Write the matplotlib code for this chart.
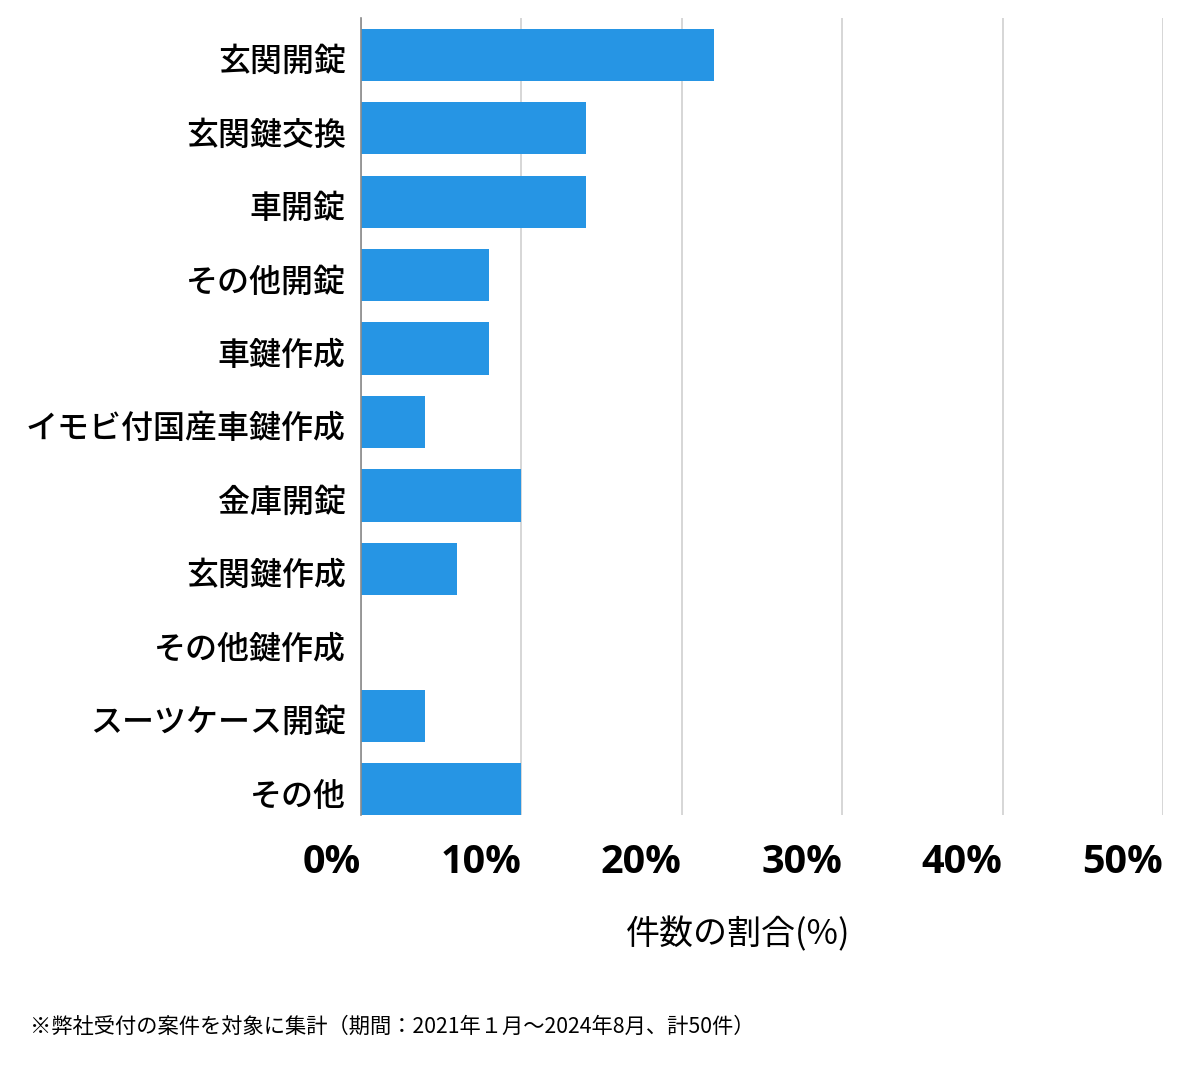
import matplotlib
matplotlib.use('Agg')
import matplotlib.pyplot as plt
from matplotlib.ticker import FixedLocator
from matplotlib.transforms import ScaledTranslation

plt.rcParams['font.family'] = ['Noto Sans CJK JP', 'DejaVu Sans']

# data (share of 50 jobs, %)
categories = ['玄関開錠', '玄関鍵交換', '車開錠', 'その他開錠', '車鍵作成',
              'イモビ付国産車鍵作成', '金庫開錠', '玄関鍵作成', 'その他鍵作成',
              'スーツケース開錠', 'その他']
shares = [22, 14, 14, 8, 8, 4, 10, 6, 0, 4, 10]
xticks = [0, 10, 20, 30, 40, 50]
xticklabels = ['0%', '10%', '20%', '30%', '40%', '50%']

BAR_COLOR = '#2695e4'

fig = plt.figure(figsize=(12, 10.69), dpi=100)
ax = fig.add_axes([0.3008, 0.2376, 0.6683, 0.7456])

ypos = list(range(len(categories)))
ax.barh(ypos, shares, height=0.71, color=BAR_COLOR, zorder=3)

ax.set_xlim(0, 50)
ax.set_ylim(10.35, -0.5)

ax.xaxis.set_major_locator(FixedLocator(xticks))
ax.set_xticklabels(xticklabels, fontsize=28.5, fontweight='bold',
                   family=['Open Sans', 'DejaVu Sans'], ha='right')
ax.tick_params(axis='x', length=0, pad=20)
ax.set_yticks(ypos)
ax.set_yticklabels(categories, fontsize=23, fontweight='medium')
ax.tick_params(axis='y', length=0, pad=11)
# nudge category labels down a little
shift = ScaledTranslation(0, -4 / 100, fig.dpi_scale_trans)
for lab in ax.get_yticklabels():
    lab.set_transform(lab.get_transform() + shift)

ax.grid(axis='x', color='#d0d0d0', linewidth=1.2, zorder=0)
for s in ['top', 'right', 'bottom']:
    ax.spines[s].set_visible(False)
ax.spines['left'].set_color('#8a8a8a')
ax.spines['left'].set_linewidth(1.2)
ax.spines['left'].set_zorder(4)

fig.text(738 / 1200, 1 - 935 / 1069, '件数の割合(%)', fontsize=24.5,
         ha='center', va='center')
fig.text(30 / 1200, 1 - 1027 / 1069,
         '※弊社受付の案件を対象に集計（期間：2021年１月～2024年8月、計50件）',
         fontsize=15.3, ha='left', va='center')

fig.savefig('out.png', dpi=100, facecolor='white')
